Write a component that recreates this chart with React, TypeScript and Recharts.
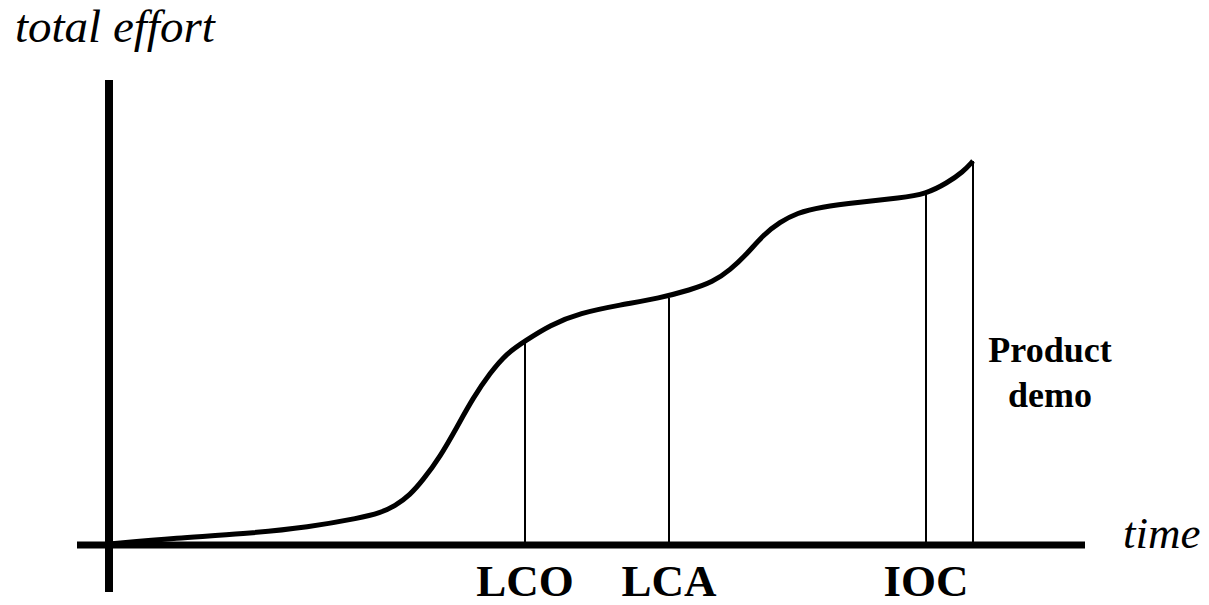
import React from "react";
import { LineChart, Line, XAxis, YAxis, ReferenceLine } from "recharts";

// schematic units: time 0..~97, effort 0..~93
const timeValues = [0, 6.8, 13.4, 20.1, 25.1, 27.1, 28.6, 30.1, 31.4, 33.1, 34.8, 36.4, 38.1, 39.8, 41.6, 44.1, 47.1, 51.1, 55.1, 58.1, 60.4, 62.1, 63.8, 65.4, 67.1, 68.8, 71.1, 75.1, 79.1, 81.7, 83.8, 85.4, 86.4];
const effortValues = [0.2, 1.4, 2.2, 3.6, 5.4, 6.4, 7.8, 10, 13, 17.6, 23.6, 29.4, 34.4, 38.4, 40.8, 44, 46.4, 48, 49.4, 51, 52.6, 55, 58.2, 62, 64.6, 66.4, 67.6, 68.6, 69.4, 70.2, 72.4, 74.6, 76.8];

const milestoneNames = ["LCO", "LCA", "IOC"];
const milestoneTime = [41.6, 56, 81.7];
const milestoneEffort = [40.4, 49.4, 70];

const demoTime = 86.4;
const demoEffort = 76.8;
const demoLabel = ["Product", "demo"];

const data = timeValues.map((t, i) => ({ t, effort: effortValues[i] }));

const SERIF = "'Liberation Serif', 'Times New Roman', serif";

const MilestoneTick = (props: any) => {
  const idx = milestoneTime.indexOf(props.payload.value);
  return (
    <text x={props.x} y={props.y - 4} textAnchor="middle" fontFamily={SERIF} fontWeight="bold" fontSize={45} fill="#000">
      {milestoneNames[idx]}
    </text>
  );
};

export default function App() {
  return (
    <div style={{ width: 1209, height: 605, marginLeft: -8, marginTop: -8 }}>
      <LineChart width={1209} height={605} data={data} margin={{ top: 80, right: 124, bottom: 0, left: 77 }}>
        <XAxis
          dataKey="t"
          type="number"
          domain={[-3.2, 97.6]}
          allowDataOverflow
          ticks={milestoneTime}
          interval={0}
          axisLine={false}
          tickLine={false}
          height={13}
          tick={MilestoneTick}
        />
        <YAxis type="number" domain={[-9.4, 93]} allowDataOverflow hide />
        {/* axes */}
        <ReferenceLine
          x={0}
          stroke="#000"
          strokeWidth={8}
          label={({ viewBox }: any) => (
            <text x={viewBox.x - 94} y={viewBox.y - 38} fontFamily={SERIF} fontStyle="italic" fontSize={47} fill="#000">
              total effort
            </text>
          )}
        />
        <ReferenceLine
          y={0}
          stroke="#000"
          strokeWidth={7}
          label={({ viewBox }: any) => (
            <text x={viewBox.x + viewBox.width + 38} y={viewBox.y + 3} fontFamily={SERIF} fontStyle="italic" fontSize={45} fill="#000">
              time
            </text>
          )}
        />
        {milestoneTime.map((m, i) => (
          <ReferenceLine
            key={milestoneNames[i]}
            segment={[{ x: m, y: 0 }, { x: m, y: milestoneEffort[i] }]}
            stroke="#000"
            strokeWidth={2}
          />
        ))}
        <ReferenceLine
          segment={[{ x: demoTime, y: 0 }, { x: demoTime, y: demoEffort }]}
          stroke="#000"
          strokeWidth={2}
          label={({ viewBox }: any) => (
            <text x={viewBox.x + 77} y={viewBox.y + viewBox.height - 183} textAnchor="middle" fontFamily={SERIF} fontWeight="bold" fontSize={36} fill="#000">
              <tspan x={viewBox.x + 77}>{demoLabel[0]}</tspan>
              <tspan x={viewBox.x + 77} dy={45}>{demoLabel[1]}</tspan>
            </text>
          )}
        />
        <Line
          type="basis"
          dataKey="effort"
          stroke="#000"
          strokeWidth={5}
          dot={false}
          activeDot={false}
          isAnimationActive={false}
        />
      </LineChart>
    </div>
  );
}
